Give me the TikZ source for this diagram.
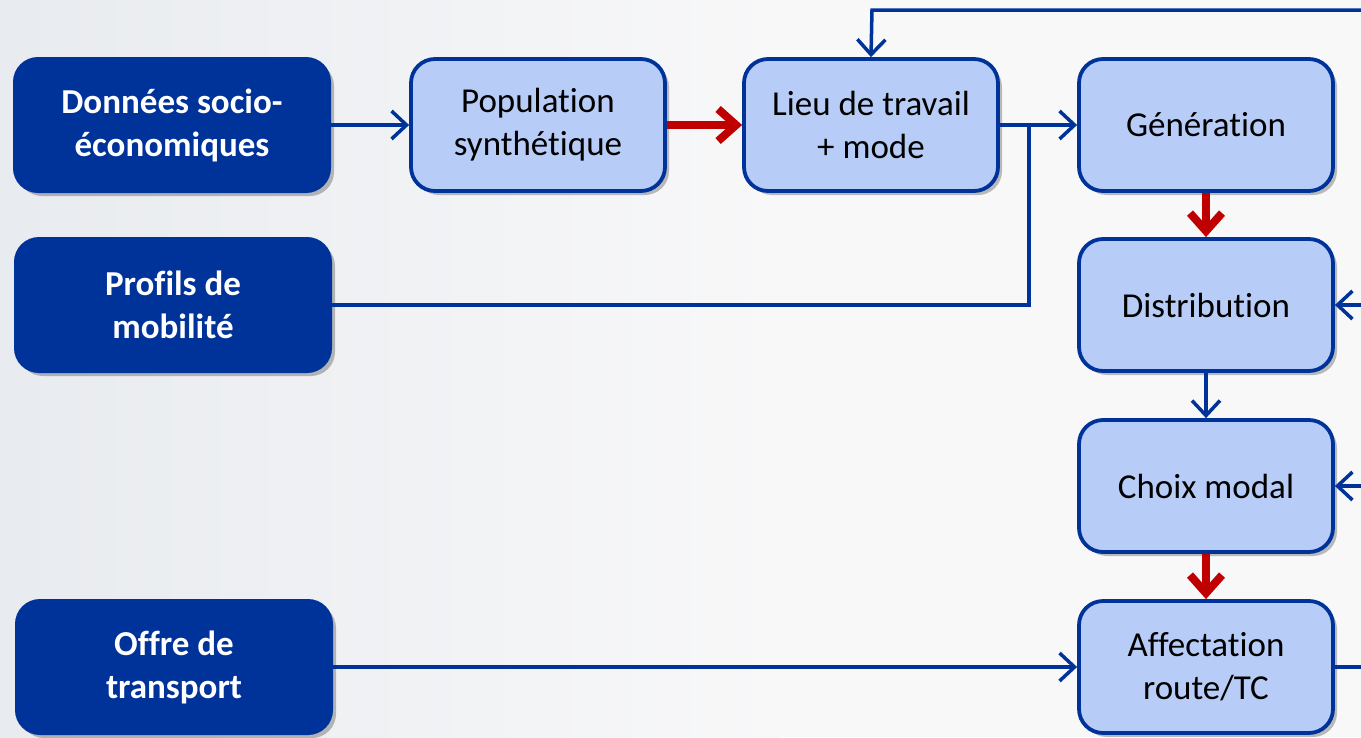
\documentclass[tikz,border=0pt]{standalone}
\usepackage{fontspec}
\setmainfont[Ligatures={NoCommon}]{Carlito}
\usetikzlibrary{arrows.meta,shadows}
\definecolor{navy}{HTML}{003399}
\definecolor{lightfill}{HTML}{B7CDF8}
\definecolor{redarr}{HTML}{C00000}
\definecolor{bgL}{HTML}{E8EBEF}
\definecolor{bgR}{HTML}{F8F8F9}
\tikzset{
  darkbox/.style={rectangle, rounded corners=24pt, fill=navy, draw=navy, line width=2pt,
    minimum width=316pt, minimum height=134pt, text=white, align=center,
    font=\fontsize{35}{43}\selectfont\bfseries,
    drop shadow={shadow xshift=4pt, shadow yshift=-4pt, opacity=0.25, fill=black}},
  lightbox/.style={rectangle, rounded corners=24pt, fill=lightfill, draw=navy, line width=3.8pt,
    minimum width=254pt, minimum height=132pt, text=black, align=center,
    font=\fontsize{35}{43}\selectfont,
    drop shadow={shadow xshift=4pt, shadow yshift=-4pt, opacity=0.25, fill=black}},
  bluearr/.style={draw=navy, line width=3.5pt, -{Straight Barb[length=15pt, width=28pt]}},
  blueline/.style={draw=navy, line width=3.5pt},
  redarr/.style={draw=redarr, line width=8pt, -{Straight Barb[length=18pt, width=32pt]}},
}
\begin{document}
\begin{tikzpicture}[x=1pt, y=-1pt]
\useasboundingbox (0,0) rectangle (1361,737);
\fill[left color=bgL, right color=bgR] (0,0) rectangle (780,737);
\fill[bgR] (780,0) rectangle (1361,737);

% sources
\node[darkbox] (soc) at (172,125) {Données socio-\\économiques};
\node[darkbox] (prof) at (173,305) {Profils de\\mobilité};
\node[darkbox] (offre) at (174,667) {Offre de\\transport};

% chain
\node[lightbox] (pop) at (538,125) {Population\\synthétique};
\node[lightbox] (lieu) at (871,125) {Lieu de travail\\+ mode};
\node[lightbox] (gen) at (1206,125) {Génération};
\node[lightbox] (dist) at (1206,305) {Distribution};
\node[lightbox] (choix) at (1206,486) {Choix modal};
\node[lightbox] (aff) at (1206,667) {Affectation\\route/TC};

% free ends
\coordinate (topR) at (1361,10);
\coordinate (topL) at (872,10);
\coordinate (join) at (1029,125);
\coordinate (profK) at (1029,305);
\coordinate (distR) at (1361,305);
\coordinate (choixR) at (1361,486);
\coordinate (affR) at (1361,667);

% connectors
\draw[bluearr] (soc.east) -- (pop.west);
\draw[redarr] (pop.east) -- (lieu.west);
\draw[bluearr] (lieu.east) -- (gen.west);
\draw[blueline] (prof.east) -- (profK) -- (join);
\draw[bluearr] (topR) -- (topL) -- (lieu.north);
\draw[redarr] (gen.south) -- (dist.north);
\draw[bluearr] (dist.south) -- (choix.north);
\draw[redarr] (choix.south) -- (aff.north);
\draw[bluearr] (distR) -- (dist.east);
\draw[bluearr] (choixR) -- (choix.east);
\draw[blueline] (aff.east) -- (affR);
\draw[bluearr] (offre.east) -- (aff.west);
\end{tikzpicture}
\end{document}
